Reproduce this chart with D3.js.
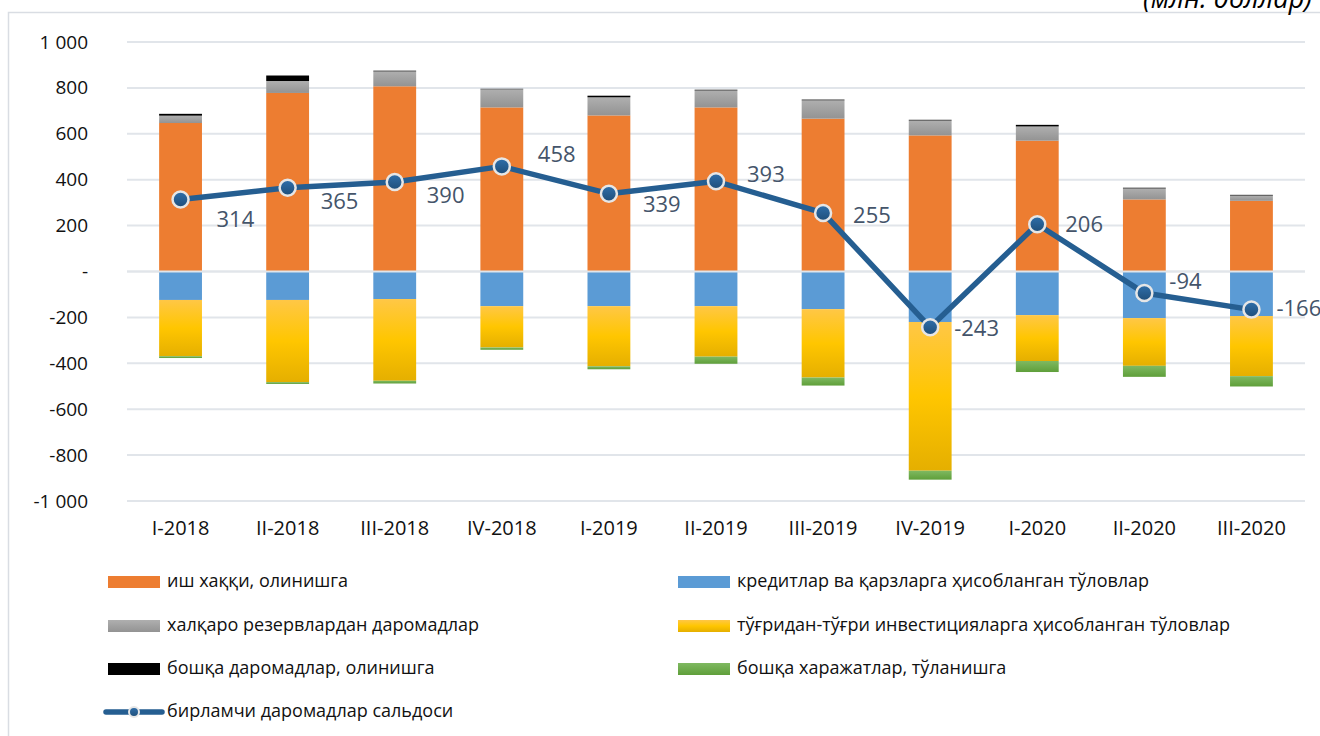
<!DOCTYPE html>
<html>
<head>
<meta charset="utf-8">
<script src="https://cdn.jsdelivr.net/npm/d3@7"></script>
<style>
  body { margin: 0; background: #fff; }
  svg { display: block; font-family: "Open Sans", sans-serif; }
</style>
</head>
<body>
<div id="grafico"></div>
<script>
// datos (млн. доллар)
const periodos = ["I-2018", "II-2018", "III-2018", "IV-2018", "I-2019", "II-2019", "III-2019", "IV-2019", "I-2020", "II-2020", "III-2020"]
const ishHaqqi = [647, 778, 807, 715, 680, 715, 666, 593, 570, 314, 308]
const kreditlar = [-124, -124, -120, -151, -151, -151, -164, -220, -190, -203, -194]
const rezervlar = [32, 52, 65, 79, 79, 74, 80, 65, 62, 48, 23]
const investitsiya = [-245, -358, -356, -180, -262, -220, -298, -648, -200, -208, -262]
const boshqaDaromad = [8, 24, 3, 2, 7, 3, 3, 3, 7, 3, 3]
const boshqaXarajat = [-8, -8, -12, -10, -13, -31, -35, -39, -48, -48, -45]
const saldo = [314, 365, 390, 458, 339, 393, 255, -243, 206, -94, -166]
const ticksY = [1000, 800, 600, 400, 200, 0, -200, -400, -600, -800, -1000]

const series = [
  { key: "ish", name: "иш хаққи, олинишга", values: ishHaqqi, fill: "#ed7d31" },
  { key: "kred", name: "кредитлар ва қарзларга ҳисобланган тўловлар", values: kreditlar, fill: "#5b9bd5" },
  { key: "rez", name: "халқаро резервлардан даромадлар", values: rezervlar, fill: "url(#gGris)" },
  { key: "inv", name: "тўғридан-тўғри инвестицияларга ҳисобланган тўловлар", values: investitsiya, fill: "url(#gAmarillo)" },
  { key: "bd", name: "бошқа даромадлар, олинишга", values: boshqaDaromad, fill: "#000000" },
  { key: "bx", name: "бошқа харажатлар, тўланишга", values: boshqaXarajat, fill: "url(#gVerde)" }
]

// desplazamiento de etiquetas del saldo
const etiquetaDx = [36, 33, 32, 36, 34, 31, 30, 24, 28, 25, 25]
const etiquetaDy = [22, 15, 15, -10, 12, -5, 4, 3, 2, -10, 1]

const W = 1320, H = 736
const plot = { left: 127, right: 1305, top: 42, bottom: 501 }

const svg = d3.select("#grafico").append("svg").attr("width", W).attr("height", H)

const defs = svg.append("defs")
const grad = (id, stops) => {
  const g = defs.append("linearGradient").attr("id", id).attr("x1", 0).attr("y1", 0).attr("x2", 0).attr("y2", 1)
  stops.forEach(s => g.append("stop").attr("offset", s[0]).attr("stop-color", s[1]))
}
grad("gAmarillo", [[0, "#ffc746"], [0.5, "#ffc600"], [1, "#e5af00"]])
grad("gGris", [[0, "#afafaf"], [1, "#939393"]])
grad("gVerde", [[0, "#7fb961"], [1, "#5f9f3a"]])
grad("gPunto", [[0, "#2f6fab"], [1, "#1f4e79"]])

// marco del gráfico
svg.append("rect").attr("x", 8.5).attr("y", 12.5).attr("width", 1400).attr("height", 800)
  .attr("fill", "none").attr("stroke", "#d9dde3").attr("stroke-width", 1.5)

svg.append("text").attr("x", 1143).attr("y", 8)
  .attr("font-size", 27).attr("font-style", "italic").attr("fill", "#000")
  .text("(млн. доллар)")

const x = d3.scaleBand().domain(periodos).range([plot.left, plot.right]).paddingInner(0.6).paddingOuter(0.3)
const y = d3.scaleLinear().domain([-1000, 1000]).range([plot.bottom, plot.top])

// rejilla
svg.append("g").selectAll("line").data(ticksY).join("line")
  .attr("x1", plot.left).attr("x2", plot.right)
  .attr("y1", d => y(d)).attr("y2", d => y(d))
  .attr("stroke", "#e1e5ea").attr("stroke-width", 2)

const fmt = d => d === 0 ? "-" : d3.format(",")(d).replace(",", " ").replace("\u2212", "-")
const ejeY = svg.append("g").attr("transform", `translate(88,0)`)
  .call(d3.axisLeft(y).tickValues(ticksY).tickFormat(fmt).tickSize(0).tickPadding(0))
ejeY.select(".domain").remove()
ejeY.selectAll("text").attr("font-size", 19).attr("fill", "#111").attr("font-family", "Open Sans")

const ejeX = svg.append("g").attr("transform", `translate(0,${plot.bottom})`)
  .call(d3.axisBottom(x).tickSize(0).tickPadding(20))
ejeX.select(".domain").remove()
ejeX.selectAll("text").attr("font-size", 20).attr("fill", "#111").attr("font-family", "Open Sans")

// barras apiladas
const tabla = periodos.map((p, i) => {
  const o = { periodo: p }
  series.forEach(s => o[s.key] = s.values[i])
  return o
})
const stack = d3.stack().keys(series.map(s => s.key)).offset(d3.stackOffsetDiverging)
const capas = stack(tabla)

svg.append("g").selectAll("g").data(capas).join("g")
  .attr("fill", (d, i) => series[i].fill)
  .selectAll("rect").data(d => d).join("rect")
  .attr("x", d => x(d.data.periodo))
  .attr("width", x.bandwidth())
  .attr("y", d => y(Math.max(d[0], d[1])))
  .attr("height", d => Math.abs(y(d[0]) - y(d[1])))

// línea del cero sobre las barras
svg.append("line").attr("x1", plot.left).attr("x2", plot.right)
  .attr("y1", y(0)).attr("y2", y(0)).attr("stroke", "#e1e5ea").attr("stroke-width", 2)

// línea del saldo
const cx = i => x(periodos[i]) + x.bandwidth() / 2
const linea = d3.line().x((d, i) => cx(i)).y(d => y(d))
svg.append("path").datum(saldo).attr("d", linea)
  .attr("fill", "none").attr("stroke", "#255e91").attr("stroke-width", 5.5).attr("stroke-linejoin", "round")

svg.append("g").selectAll("circle").data(saldo).join("circle")
  .attr("cx", (d, i) => cx(i)).attr("cy", d => y(d)).attr("r", 8)
  .attr("fill", "url(#gPunto)").attr("stroke", "#e6e6e6").attr("stroke-width", 2.5)

svg.append("g").selectAll("text").data(saldo).join("text")
  .attr("x", (d, i) => cx(i) + etiquetaDx[i])
  .attr("y", (d, i) => y(d) + etiquetaDy[i])
  .attr("dominant-baseline", "middle")
  .attr("font-size", 22).attr("fill", "#44546a")
  .text(d => d)

// leyenda
const filaY = [582, 626, 669]
const ley = svg.append("g")
series.forEach((s, i) => {
  const col = i % 2, fila = Math.floor(i / 2)
  const lx = col === 0 ? 108 : 678
  const g = ley.append("g").attr("transform", `translate(${lx},${filaY[fila]})`)
  g.append("rect").attr("x", 0).attr("y", -6).attr("width", 52).attr("height", 12).attr("fill", s.fill)
  g.append("text").attr("x", 59).attr("y", 0).attr("dominant-baseline", "middle")
    .attr("font-size", 18).attr("fill", "#111").text(s.name)
})
const gl = ley.append("g").attr("transform", "translate(108,712)")
gl.append("line").attr("x1", -2).attr("x2", 54).attr("stroke", "#255e91").attr("stroke-width", 5.5).attr("stroke-linecap", "round")
gl.append("circle").attr("cx", 26).attr("r", 5).attr("fill", "url(#gPunto)").attr("stroke", "#e6e6e6").attr("stroke-width", 2)
gl.append("text").attr("x", 59).attr("y", 0).attr("dominant-baseline", "middle")
  .attr("font-size", 18).attr("fill", "#111").text("бирламчи даромадлар сальдоси")
</script>
</body>
</html>
